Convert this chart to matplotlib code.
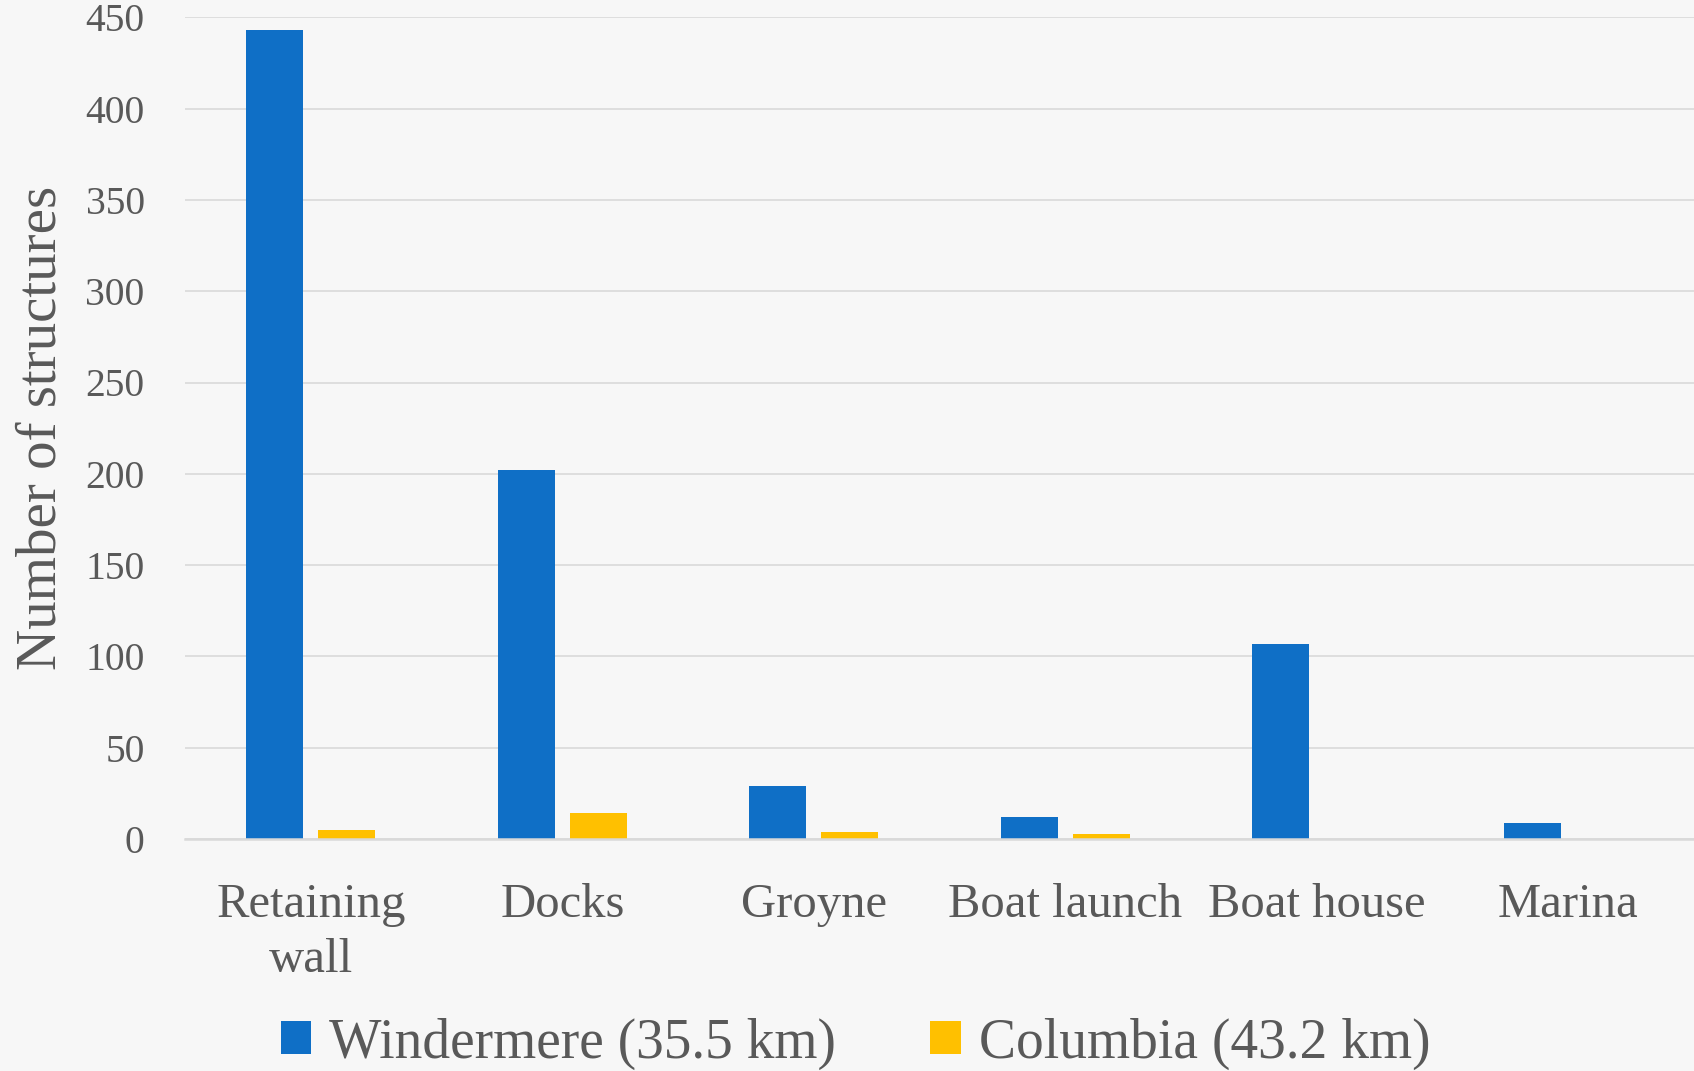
import matplotlib
matplotlib.use("Agg")
import matplotlib.pyplot as plt
import numpy as np

categories = ["Retaining\nwall", "Docks", "Groyne", "Boat launch", "Boat house", "Marina"]
windermere = [443, 202, 29, 12, 107, 9]
columbia = [5, 14, 4, 3, 0, 0]
series_labels = ["Windermere (35.5 km)", "Columbia (43.2 km)"]
yticks = [0, 50, 100, 150, 200, 250, 300, 350, 400, 450]

BLUE = "#0F6FC6"
YELLOW = "#FFC000"
TEXT = "#595959"
GRID = "#D9D9D9"
BG = "#F7F7F7"

plt.rcParams['font.family'] = ['Liberation Serif', 'DejaVu Serif']

W, H = 1694, 1071
fig = plt.figure(figsize=(W / 100, H / 100), dpi=100, facecolor=BG)
left = 185 / W
bottom = 1 - 839 / H
top = 1 - 17.3 / H
ax = fig.add_axes([left, bottom, 1 - left, top - bottom], facecolor=BG)

x = np.arange(len(categories))
bw = 0.2266
ax.bar(x - 0.143, windermere, width=bw, color=BLUE, label=series_labels[0], zorder=3)
ax.bar(x + 0.143, columbia, width=bw, color=YELLOW, label=series_labels[1], zorder=3)

ax.set_xlim(-0.5, len(categories) - 0.5)
ax.set_ylim(0, 450)
ax.set_yticks(yticks)
ax.set_yticklabels([str(v) for v in yticks])
ax.set_xticks(x)
ax.set_xticklabels(categories)

ax.grid(axis='y', color=GRID, linewidth=1.2, zorder=0)
ax.set_axisbelow(True)
for s in ['top', 'right', 'left']:
    ax.spines[s].set_visible(False)
ax.spines['bottom'].set_color(GRID)
ax.spines['bottom'].set_linewidth(1.8)
ax.spines['bottom'].set_zorder(4)

ax.tick_params(axis='y', length=0, pad=29, labelsize=28.5, labelcolor=TEXT)
ax.tick_params(axis='x', length=0, pad=32, labelsize=35, labelcolor=TEXT)
for lbl in ax.get_xticklabels():
    lbl.set_linespacing(1.3)

ax.set_ylabel("Number of structures", fontsize=41, color=TEXT)
ax.yaxis.set_label_coords(-(185 - 67) / (W - 185), 0.5)

leg = fig.legend(loc='center', bbox_to_anchor=(0.505, 1 - 1043.5 / H), ncol=2,
                 frameon=False, fontsize=40, handlelength=0.55, handleheight=0.55,
                 handletextpad=0.32, columnspacing=1.7, borderpad=0)
for t in leg.get_texts():
    t.set_color(TEXT)

fig.savefig("out.png", dpi=100, facecolor=BG)
